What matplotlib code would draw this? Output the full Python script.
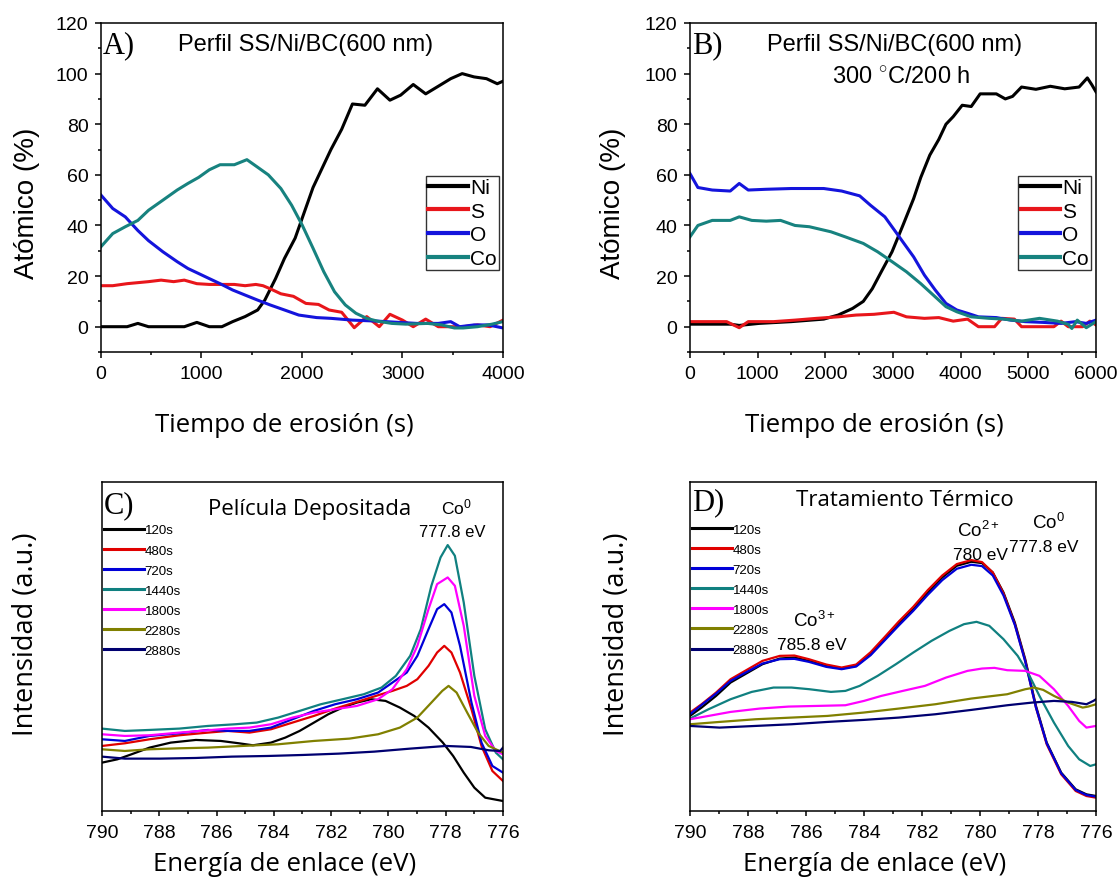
import matplotlib
matplotlib.use("Agg")
import matplotlib.pyplot as plt
from matplotlib.ticker import MultipleLocator

# ---------------- Data ----------------
# Panel A: depth profile, as deposited (time in s, atomic %)
a_ni_t = [0, 260, 367, 473, 829, 954, 1078, 1203, 1310, 1434, 1559, 1630, 1737, 1826, 1932, 2021, 2110,
          2199, 2288, 2395, 2502, 2626, 2751, 2875, 2982, 3107, 3231, 3356, 3480, 3594, 3712, 3836, 3943, 4000]
a_ni = [0, 0, 1.3, 0, 0, 1.7, 0, 0, 2, 4, 6.6, 10.5, 19, 27, 35, 45, 55,
        62.5, 70, 78, 88, 87.5, 94, 89.5, 91.5, 95.7, 92, 95, 98, 100, 98.7, 98, 96, 97]
a_s_t = [0, 117, 260, 473, 598, 723, 829, 954, 1078, 1327, 1434, 1541, 1612, 1683, 1790, 1915, 2039, 2164,
         2270, 2395, 2520, 2644, 2769, 2875, 3000, 3107, 3231, 3356, 3480, 3605, 3747, 3872, 4000]
a_s = [16.2, 16.2, 17, 17.8, 18.4, 17.8, 18.4, 17, 16.7, 16.7, 16.2, 16.7, 16.2, 15, 13, 12, 9.2, 8.8,
       6.6, 5.7, -0.4, 4, 0, 4.9, 2.6, 0, 3, 0, 0, 0, 0.7, 0, 2.6]
a_o_t = [0, 117, 242, 367, 473, 616, 758, 865, 972, 1078, 1185, 1310, 1434, 1559, 1683, 1826, 1968, 2146,
         2288, 2502, 2751, 2964, 3142, 3356, 3480, 3569, 3712, 3854, 4000]
a_o = [52, 46.7, 43.4, 38, 34, 29.6, 25.7, 23, 21, 19, 17, 14.5, 12.5, 10.5, 8.6, 6.6, 4.6, 3.6,
       3.3, 2.6, 2.2, 1.7, 1.3, 1.3, 2, 0, 0.7, 0.7, -0.5]
a_co_t = [0, 117, 242, 367, 473, 616, 758, 865, 972, 1078, 1185, 1327, 1452, 1559, 1665, 1790, 1897, 2004,
          2110, 2217, 2324, 2431, 2537, 2644, 2751, 2893, 3036, 3249, 3391, 3516, 3605, 3747, 3890, 4000]
a_co = [31.6, 36.8, 39.5, 42, 46, 50, 54, 56.6, 59, 62, 64, 64, 66, 63, 60, 54.6, 48, 40,
        31, 21.7, 13.8, 8.6, 5.3, 3.3, 2.2, 1.3, 1, 1.3, 0.7, -0.5, -0.5, 0, 1, 2]

# Panel B: depth profile, 300 C / 200 h
b_ni_t = [0, 595, 728, 1020, 1498, 1977, 2189, 2402, 2561, 2694, 2827, 2986, 3146, 3305, 3411, 3544, 3677,
          3783, 3890, 4023, 4156, 4288, 4527, 4660, 4767, 4900, 5112, 5325, 5538, 5750, 5872, 5936, 6000]
b_ni = [1, 1, 0.5, 1.3, 2, 3, 4.6, 7.2, 10, 15, 21.7, 29.6, 40, 50.6, 59, 67.8, 74,
        80, 83, 87.5, 87, 92, 92, 90, 91, 94.7, 93.8, 95, 94, 94.7, 98.3, 95.7, 92.8]
b_s_t = [0, 542, 728, 861, 1233, 1552, 1871, 2189, 2455, 2720, 3013, 3199, 3464, 3677, 3890, 4102, 4262,
         4501, 4608, 4794, 4900, 5378, 5484, 5590, 5803, 5909, 6000]
b_s = [2, 2, -0.4, 2, 2, 2.6, 3.3, 3.9, 4.6, 4.9, 5.7, 3.9, 3.3, 3.6, 2.2, 3, 0,
       0, 3.3, 3, 0, 0, 2.2, 0, 0, 2.2, 0.7]
b_o_t = [0, 117, 329, 595, 728, 861, 1127, 1498, 1977, 2242, 2508, 2667, 2880, 3039, 3146, 3305, 3464,
         3624, 3783, 3943, 4102, 4262, 4527, 4740, 4952, 5218, 5484, 5697, 5856, 6000]
b_o = [60.5, 55, 54, 53.6, 56.6, 54, 54.3, 54.6, 54.6, 53.6, 51.7, 48, 43.4, 37.5, 33.5, 27.6, 20.4,
       14.5, 9.2, 6.6, 5.3, 3.9, 3.6, 2.6, 2, 1.7, 1.3, 2, 1.3, 2.6]
b_co_t = [0, 117, 329, 595, 728, 914, 1127, 1339, 1552, 1764, 2083, 2295, 2561, 2773, 2986, 3199, 3411,
          3624, 3783, 3943, 4156, 4421, 4634, 4900, 5165, 5431, 5590, 5643, 5723, 5856, 6000]
b_co = [35.5, 40, 42, 42, 43.4, 42, 41.7, 42, 40, 39.5, 37.5, 35.5, 32.9, 29.6, 25.7, 21.7, 17,
        11.8, 7.9, 5.9, 3.9, 3.3, 3, 2.2, 3.3, 2.2, 0.9, -0.7, 2.6, -0.4, 2]

elements = ["Ni", "S", "O", "Co"]

# Panel C: Co 2p spectra, as deposited (binding energy eV, intensity a.u.)
c_labels = ["120s", "480s", "720s", "1440s", "1800s", "2280s", "2880s"]
c_e_120 = [790, 789.46, 788.97, 788.34, 787.6, 786.72, 785.85, 785.22, 784.73, 784.1, 783.6, 783.1, 782.6,
           782.1, 781.6, 781.1, 780.6, 780.1, 779.6, 779.1, 778.6, 778.1, 777.74, 777.37, 777.0, 776.62, 776]
c_i_120 = [14.5, 15.5, 17, 19, 20.5, 21.3, 21, 20.3, 19.7, 20.5, 22, 24, 26.5,
           29, 31, 32.5, 33.5, 33, 31, 28.5, 25, 20.5, 16.5, 11.5, 7, 4, 3]
c_e_480 = [790, 789.2, 788.34, 787.3, 786.3, 785.6, 784.85, 784.1, 783.35, 782.6, 781.86, 781.1, 780.36,
           779.86, 779.36, 778.99, 778.6, 778.3, 778.05, 777.8, 777.5, 777.1, 776.75, 776.37, 776]
c_i_480 = [19.5, 20.3, 21.5, 22.7, 23.5, 24, 23.5, 24.5, 26.5, 28.5, 30.7, 32.7, 34.7,
           36, 37.5, 39.5, 43.5, 47.5, 49.5, 47.5, 41.5, 30.5, 19.5, 12, 9]
c_e_720 = [790, 789.2, 788.34, 787.3, 786.3, 785.6, 784.85, 784.1, 783.35, 782.6, 781.86, 781.1, 780.36,
           779.86, 779.36, 778.99, 778.6, 778.3, 778.05, 777.8, 777.5, 777.1, 776.75, 776.37, 776]
c_i_720 = [21.5, 21, 22.5, 23.3, 24.3, 24, 24, 25, 27.5, 30, 32, 33.5, 35.5,
           38.5, 41.5, 46.5, 54.5, 60.5, 62, 59.5, 49.5, 32.5, 20.5, 13.5, 11.5]
c_e_1440 = [790, 789.2, 788.34, 787.3, 786.3, 785.35, 784.6, 783.85, 783.1, 782.36, 781.6, 780.86, 780.24,
            779.74, 779.24, 778.87, 778.5, 778.18, 777.93, 777.68, 777.37, 777.0, 776.62, 776.25, 776]
c_i_1440 = [24.7, 24, 24.3, 24.7, 25.5, 26, 26.5, 28, 30, 32, 33.5, 35, 37,
            40.5, 46.5, 54.5, 67.5, 76, 79.7, 76.5, 62.5, 40.5, 24.5, 17.5, 15.5]
c_e_1800 = [790, 789.2, 788.34, 787.3, 786.3, 785.6, 784.85, 784.1, 783.35, 782.6, 781.86, 781.1, 780.36,
            779.86, 779.36, 778.99, 778.6, 778.3, 777.93, 777.68, 777.37, 777.0, 776.62, 776.25, 776]
c_i_1800 = [23, 22.5, 22.7, 23.5, 24.2, 24.7, 25, 26, 28, 29.5, 30.5, 31.5, 33.5,
            36.5, 42.5, 49.5, 60.5, 68, 70, 67.5, 55.5, 34.5, 22.5, 18, 17]
c_e_2280 = [790, 789.2, 788.34, 787.3, 786.3, 785.1, 783.85, 782.6, 781.36, 780.36, 779.6, 778.99, 778.5,
            778.12, 777.9, 777.62, 777.25, 776.87, 776.5, 776]
c_i_2280 = [18.5, 18, 18.5, 18.8, 19, 19.5, 20, 21, 21.7, 23, 25, 28, 32.5,
            36, 37.5, 35.5, 29.5, 23.5, 19.5, 17.5]
c_e_2880 = [790, 789.2, 787.97, 786.72, 785.47, 784.2, 782.98, 781.73, 780.49, 779.24, 777.99, 777.12,
            776.5, 776.1, 776]
c_i_2880 = [16.3, 15.7, 15.7, 15.9, 16.3, 16.5, 16.8, 17.2, 17.8, 18.7, 19.5, 19.2, 18.2, 18, 19]

# Panel D: Co 2p spectra after heat treatment
d_labels = ["120s", "480s", "720s", "1440s", "1800s", "2280s", "2880s"]
d_e_120 = [790, 789.6, 789.1, 788.6, 788.1, 787.5, 786.9, 786.4, 785.9, 785.3, 784.77, 784.27, 783.77,
           783.28, 782.8, 782.3, 781.8, 781.3, 780.8, 780.3, 779.93, 779.56, 779.19, 778.8, 778.44, 778.07,
           777.7, 777.2, 776.7, 776.33, 776]
d_i_120 = [28.5, 31, 34.5, 38.5, 41, 44, 45.7, 46, 45, 43.5, 42.7, 43.5, 47,
           51.5, 56, 60.5, 65.5, 70, 73.5, 74.7, 74.3, 71.5, 65.5, 56.5, 45.5, 31.5,
           20.5, 11.5, 6.5, 5, 4.5]
d_e_480 = d_e_120
d_i_480 = [29.5, 32, 35.5, 39.5, 42, 45, 46.5, 46.6, 45.5, 43.9, 43, 43.9, 47.6,
           52.2, 56.8, 61.2, 66.2, 70.6, 74, 75.2, 74.6, 71.5, 65.2, 56, 45, 31,
           20, 11, 6, 4.5, 4]
d_e_720 = d_e_120
d_i_720 = [29, 31.8, 35.2, 39, 41.4, 44.2, 45.5, 45.6, 44.7, 43.2, 42.5, 43.3, 46.7,
           51.2, 55.6, 60, 64.8, 69.2, 72.6, 73.8, 73.4, 70.6, 64.6, 55.8, 44.8, 31,
           20.3, 11.3, 6.3, 4.8, 4.3]
d_e_1440 = [790, 789.36, 788.6, 787.87, 787.12, 786.5, 785.88, 785.14, 784.64, 784.15, 783.53, 782.9,
            782.3, 781.67, 781.05, 780.55, 780.12, 779.68, 779.19, 778.7, 778.32, 777.95, 777.45, 776.96,
            776.58, 776.2, 776]
d_i_1440 = [27.7, 30.5, 33.5, 35.7, 37, 37, 36.5, 35.7, 36, 37.5, 40.5, 44,
            47.5, 51, 54, 56, 56.7, 55.5, 51.5, 46.5, 41, 34.5, 26.5, 19.5,
            15.5, 13.5, 14]
d_e_1800 = [790, 789.36, 788.6, 787.6, 786.6, 785.6, 784.64, 784, 783.4, 782.66, 781.9, 781.17, 780.43,
            779.93, 779.5, 779.06, 778.44, 777.95, 777.45, 776.96, 776.58, 776.33, 776]
d_i_1800 = [27.5, 28.5, 29.7, 30.7, 31.3, 31.5, 31.7, 33, 34.5, 36, 37.5, 40, 42,
            42.7, 42.9, 42.2, 42, 40.5, 36.5, 31.5, 27, 25, 25.5]
d_e_2280 = [790, 788.98, 787.74, 786.5, 785.26, 784.02, 782.8, 781.54, 780.3, 779.06, 778.44, 778.13,
            777.82, 777.45, 776.96, 776.46, 776.27, 776]
d_i_2280 = [26, 26.7, 27.5, 28, 28.5, 29.5, 30.7, 32, 33.7, 35, 36.5, 37,
            36.3, 34.5, 32.5, 31, 31.3, 32]
d_e_2880 = [790, 788.98, 787.74, 786.5, 785.26, 784.02, 782.8, 781.54, 780.3, 779.06, 778.2, 777.45,
            776.83, 776.33, 776.09, 776]
d_i_2880 = [25.5, 25, 25.5, 26, 26.7, 27.3, 28, 29, 30.3, 31.7, 32.5, 33,
            32.7, 32, 33, 33.5]

# ---------------- Style ----------------
plt.rcParams['font.family'] = ['Liberation Sans', 'DejaVu Sans']
plt.rcParams['axes.linewidth'] = 1.1
plt.rcParams['mathtext.fontset'] = 'custom'
plt.rcParams['mathtext.rm'] = 'Liberation Sans'
plt.rcParams['mathtext.it'] = 'Liberation Sans:italic'

prof_colors = ['#000000', '#e8161b', '#1414dc', '#17827f']
spec_colors = ['#000000', '#e00000', '#0000d8', '#108080', '#ff00ff', '#808000', '#000070']
label_font = ['Open Sans', 'DejaVu Sans']

fig = plt.figure(figsize=(11.17, 8.79), dpi=100)
axA = fig.add_axes([0.0904, 0.5984, 0.3599, 0.3743])
axB = fig.add_axes([0.6177, 0.5984, 0.3635, 0.3743])
axC = fig.add_axes([0.0913, 0.0762, 0.3590, 0.3743])
axD = fig.add_axes([0.6177, 0.0762, 0.3635, 0.3743])


def style_profile(ax, xmax, xmajor):
    ax.set_xlim(0, xmax)
    ax.set_ylim(-10, 120)
    ax.xaxis.set_major_locator(MultipleLocator(xmajor))
    ax.xaxis.set_minor_locator(MultipleLocator(xmajor / 2))
    ax.yaxis.set_major_locator(MultipleLocator(20))
    ax.yaxis.set_minor_locator(MultipleLocator(10))
    ax.tick_params(which='both', direction='out', top=False, right=False, labelsize=14, width=1.1)
    ax.tick_params(which='major', length=4, pad=5)
    ax.tick_params(which='minor', length=2.5)
    ax.set_ylabel('Atómico (%)', fontsize=20)
    ax.set_xlabel('Tiempo de erosión (s)', fontsize=18.5, family=label_font)
    ax.xaxis.label.set_va('center')
    ax.yaxis.label.set_va('center')
    ax.xaxis.set_label_coords(0.455, -0.22)


def style_spectrum(ax):
    ax.set_xlim(790, 776)
    ax.set_ylim(0, 98.6)
    ax.xaxis.set_major_locator(MultipleLocator(2))
    ax.xaxis.set_minor_locator(MultipleLocator(1))
    ax.set_yticks([])
    ax.tick_params(which='both', direction='out', top=False, right=False, labelsize=14, width=1.1)
    ax.tick_params(which='major', length=3.5, pad=6)
    ax.tick_params(which='minor', length=2.5)
    ax.set_ylabel('Intensidad (a.u.)', fontsize=19.5, family=label_font)
    ax.set_xlabel('Energía de enlace (eV)', fontsize=18.5, family=label_font)
    ax.xaxis.label.set_va('center')
    ax.yaxis.label.set_va('center')
    ax.xaxis.set_label_coords(0.455, -0.16)


# Panel A
for t, v, c, n in zip([a_ni_t, a_s_t, a_o_t, a_co_t], [a_ni, a_s, a_o, a_co], prof_colors, elements):
    axA.plot(t, v, color=c, lw=2.2, label=n)
style_profile(axA, 4000, 1000)
axA.yaxis.set_label_coords(-0.183, 0.455)
axA.text(0.005, 0.935, 'A)', transform=axA.transAxes, fontsize=22, family='Liberation Serif',
         ha='left', va='center')
axA.text(0.51, 0.935, 'Perfil SS/Ni/BC(600 nm)', transform=axA.transAxes, fontsize=17,
         ha='center', va='center')

# Panel B
for t, v, c, n in zip([b_ni_t, b_s_t, b_o_t, b_co_t], [b_ni, b_s, b_o, b_co], prof_colors, elements):
    axB.plot(t, v, color=c, lw=2.2, label=n)
style_profile(axB, 6000, 1000)
axB.yaxis.set_label_coords(-0.19, 0.455)
axB.text(0.006, 0.935, 'B)', transform=axB.transAxes, fontsize=22, family='Liberation Serif',
         ha='left', va='center')
axB.text(0.505, 0.935, 'Perfil SS/Ni/BC(600 nm)', transform=axB.transAxes, fontsize=17,
         ha='center', va='center')
axB.text(0.52, 0.84, '300 $^{\\circ}$C/200 h', transform=axB.transAxes, fontsize=17,
         ha='center', va='center')

for ax in (axA, axB):
    leg = ax.legend(loc='upper left', bbox_to_anchor=(0.808, 0.536), borderaxespad=0,
                    fontsize=15, handlelength=1.9, handletextpad=0.1, labelspacing=0.22,
                    borderpad=0.12, fancybox=False, framealpha=1, edgecolor='#333333')
    leg.get_frame().set_linewidth(1.0)
    for line in leg.get_lines():
        line.set_linewidth(3)

# Panel C
c_sets = [(c_e_120, c_i_120), (c_e_480, c_i_480), (c_e_720, c_i_720), (c_e_1440, c_i_1440),
          (c_e_1800, c_i_1800), (c_e_2280, c_i_2280), (c_e_2880, c_i_2880)]
for (e, i), col, lab in zip(c_sets, spec_colors, c_labels):
    axC.plot(e, i, color=col, lw=1.6, label=lab)
style_spectrum(axC)
axC.yaxis.set_label_coords(-0.19, 0.54)
axC.text(0.004, 0.93, 'C)', transform=axC.transAxes, fontsize=22, family='Liberation Serif',
         ha='left', va='center')
axC.text(0.518, 0.918, 'Película Depositada', transform=axC.transAxes, fontsize=16,
         family=label_font, ha='center', va='center')
axC.text(0.884, 0.925, 'Co$^{0}$', transform=axC.transAxes, fontsize=12.5, ha='center', va='center')
axC.text(0.874, 0.85, '777.8 eV', transform=axC.transAxes, fontsize=12, ha='center', va='center')

# Panel D
d_sets = [(d_e_120, d_i_120), (d_e_480, d_i_480), (d_e_720, d_i_720), (d_e_1440, d_i_1440),
          (d_e_1800, d_i_1800), (d_e_2280, d_i_2280), (d_e_2880, d_i_2880)]
for (e, i), col, lab in zip(d_sets, spec_colors, d_labels):
    axD.plot(e, i, color=col, lw=1.6, label=lab)
style_spectrum(axD)
axD.yaxis.set_label_coords(-0.18, 0.54)
axD.text(0.004, 0.94, 'D)', transform=axD.transAxes, fontsize=22, family='Liberation Serif',
         ha='left', va='center')
axD.text(0.53, 0.948, 'Tratamiento Térmico', transform=axD.transAxes, fontsize=16,
         family=label_font, ha='center', va='center')
axD.text(0.71, 0.855, 'Co$^{2+}$', transform=axD.transAxes, fontsize=13.5, ha='center', va='center')
axD.text(0.715, 0.78, '780 eV', transform=axD.transAxes, fontsize=12.5, ha='center', va='center')
axD.text(0.883, 0.88, 'Co$^{0}$', transform=axD.transAxes, fontsize=13.5, ha='center', va='center')
axD.text(0.872, 0.805, '777.8 eV', transform=axD.transAxes, fontsize=12.5, ha='center', va='center')
axD.text(0.307, 0.58, 'Co$^{3+}$', transform=axD.transAxes, fontsize=13.5, ha='center', va='center')
axD.text(0.301, 0.507, '785.8 eV', transform=axD.transAxes, fontsize=12.5, ha='center', va='center')

for ax, anchor in ((axC, (0.004, 0.872)), (axD, (0.004, 0.874))):
    leg = ax.legend(loc='upper left', bbox_to_anchor=anchor, borderaxespad=0, frameon=False,
                    fontsize=9.6, handlelength=3.0, handletextpad=0.08, labelspacing=0.58,
                    borderpad=0)
    for line in leg.get_lines():
        line.set_linewidth(2.2)

fig.savefig('out.png', dpi=100)
